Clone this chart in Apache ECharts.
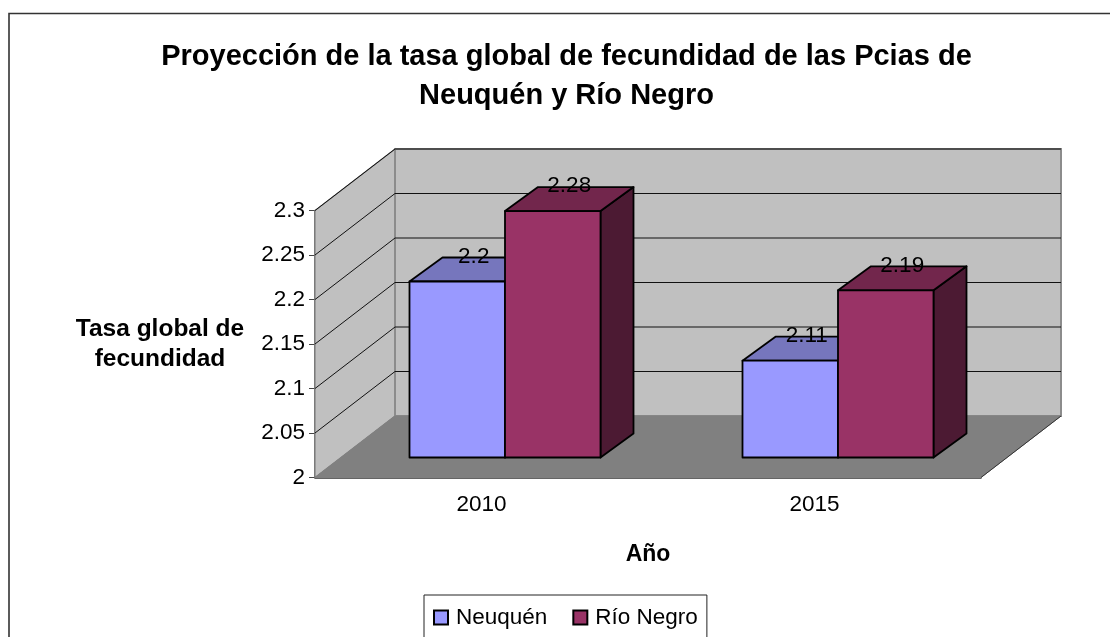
<!DOCTYPE html>
<html lang="es">
<head>
    <meta charset="utf-8">
    <title>Tasa global de fecundidad</title>
    <script src="https://cdn.jsdelivr.net/npm/echarts@6/dist/echarts.min.js"></script>
    <style>
        html, body { margin: 0; padding: 0; background: #fff; }
        #main { width: 1110px; height: 637px; }
    </style>
</head>
<body>
    <div id="main"></div>
    <script>
        var years = ['2010', '2015'];
        var neuquen = [2.2, 2.11];
        var rioNegro = [2.28, 2.19];
        var yTicks = [2, 2.05, 2.1, 2.15, 2.2, 2.25, 2.3];

        var fontName = '"Liberation Sans", Arial, sans-serif';

        // depth of the box behind the front axes
        var wallDx = 80, wallDy = -61.5;
        // depth of a bar
        var barDx = 33, barDy = -24;
        var barRatio = 95.5 / 333;

        function back(p) {
            return [p[0] + wallDx, p[1] + wallDy];
        }

        function renderWalls(params, api) {
            var r = params.coordSys;
            var bl = [r.x, r.y + r.height], tl = [r.x, r.y], br = [r.x + r.width, r.y + r.height];
            var bbl = back(bl), btl = back(tl), bbr = back(br), btr = [bbr[0], btl[1]];
            return {
                type: 'group',
                children: [
                    { type: 'polygon', shape: { points: [bl, bbl, btl, tl] }, style: { fill: '#c0c0c0', stroke: '#808080', lineWidth: 1.2 } },
                    { type: 'polygon', shape: { points: [bbl, btl, btr, bbr] }, style: { fill: '#c0c0c0', stroke: '#8c8c8c', lineWidth: 2 } },
                    { type: 'polygon', shape: { points: [bl, bbl, bbr, br] }, style: { fill: '#808080', stroke: '#808080', lineWidth: 1 } },
                    { type: 'line', shape: { x1: br[0], y1: br[1], x2: bbr[0], y2: bbr[1] }, style: { stroke: '#333', lineWidth: 1 } }
                ]
            };
        }

        function renderGridline(params, api) {
            var r = params.coordSys;
            var y = api.coord([0, api.value(0)])[1];
            var a = [r.x, y], b = back(a), c = [b[0] + r.width, b[1]];
            return {
                type: 'polyline',
                shape: { points: [a, b, c] },
                style: { fill: 'none', stroke: '#111', lineWidth: 1 }
            };
        }

        function barRenderer(side, front, top, right) {
            return function (params, api) {
                var idx = api.value(0), val = api.value(1);
                var t = api.coord([idx, val]), b = api.coord([idx, 2]);
                var w = api.size([1, 0])[0] * barRatio;
                var x0 = t[0] + side * w, x1 = x0 + w;
                var y0 = t[1], y1 = b[1];
                var line = { stroke: '#000', lineWidth: 1.8, lineJoin: 'round' };
                function face(points, fill) {
                    return { type: 'polygon', shape: { points: points }, style: Object.assign({ fill: fill }, line) };
                }
                return {
                    type: 'group',
                    children: [
                        face([[x1, y0], [x1 + barDx, y0 + barDy], [x1 + barDx, y1 + barDy], [x1, y1]], right),
                        face([[x0, y0], [x0 + barDx, y0 + barDy], [x1 + barDx, y0 + barDy], [x1, y0]], top),
                        face([[x0, y0], [x1, y0], [x1, y1], [x0, y1]], front),
                        {
                            type: 'text',
                            z2: 50,
                            style: {
                                x: (x0 + x1) / 2 + barDx / 2,
                                y: y0 - 25,
                                text: String(val),
                                fill: '#000',
                                font: '22.5px ' + fontName,
                                align: 'center',
                                verticalAlign: 'middle'
                            }
                        }
                    ]
                };
            };
        }

        function pairs(values) {
            return values.map(function (v, i) { return [i, v]; });
        }

        var myChart = echarts.init(document.getElementById('main'));
        var option = {
            backgroundColor: '#fff',
            animation: false,
            textStyle: { fontFamily: fontName },
            title: {
                text: 'Proyección de la tasa global de fecundidad de las Pcias de\nNeuquén y Río Negro',
                left: 561.5,
                top: 32,
                textAlign: 'center',
                textStyle: { fontFamily: fontName, fontSize: 29, fontWeight: 'bold', color: '#000', lineHeight: 39 }
            },
            legend: {
                left: 424,
                top: 595,
                padding: [11, 9, 10, 9],
                itemWidth: 14,
                itemHeight: 14,
                itemGap: 25,
                icon: 'rect',
                borderColor: '#222',
                borderWidth: 1,
                backgroundColor: '#fff',
                textStyle: { fontFamily: fontName, fontSize: 22.5, color: '#000', padding: [0, 0, 0, 3] },
                data: ['Neuquén', 'Río Negro']
            },
            // frame of the chart is cut off at the right and bottom in the picture
            graphic: [{
                type: 'polyline',
                silent: true,
                z: -1,
                shape: { points: [[9, 640], [9, 13.5], [1112, 13.5]] },
                style: { fill: 'none', stroke: '#333', lineWidth: 1.6 }
            }],
            grid: [
                { left: 315, top: 210.5, width: 666, height: 267 },
                { left: 338.5, top: 193.5, width: 666, height: 264 }
            ],
            xAxis: [{
                type: 'category',
                gridIndex: 0,
                data: years,
                name: 'Año',
                nameLocation: 'middle',
                nameGap: 66,
                nameTextStyle: { fontFamily: fontName, fontSize: 23, fontWeight: 'bold', color: '#000' },
                axisLine: { lineStyle: { color: '#333', width: 1.5 } },
                axisTick: { length: 6, lineStyle: { color: '#555' } },
                axisLabel: { fontFamily: fontName, fontSize: 22.5, color: '#000', margin: 16 }
            }, {
                type: 'category',
                gridIndex: 1,
                data: years,
                show: false
            }],
            yAxis: [{
                type: 'value',
                gridIndex: 0,
                min: 2,
                max: 2.3,
                interval: 0.05,
                name: 'Tasa global de\nfecundidad',
                nameLocation: 'middle',
                nameRotate: 0,
                nameGap: 155,
                nameTextStyle: { fontFamily: fontName, fontSize: 24.5, fontWeight: 'bold', color: '#000', lineHeight: 30, align: 'center' },
                axisLine: { show: true, lineStyle: { color: '#444', width: 1.5 } },
                axisTick: { show: true, length: 6, lineStyle: { color: '#444' } },
                axisLabel: { fontFamily: fontName, fontSize: 22.5, color: '#000', margin: 10 },
                splitLine: { show: false }
            }, {
                type: 'value',
                gridIndex: 1,
                min: 2,
                max: 2.3,
                show: false
            }],
            series: [
                {
                    type: 'custom',
                    name: 'paredes',
                    xAxisIndex: 0,
                    yAxisIndex: 0,
                    z: 1,
                    silent: true,
                    clip: false,
                    renderItem: renderWalls,
                    data: [[0]]
                },
                {
                    type: 'custom',
                    name: 'rejilla',
                    xAxisIndex: 0,
                    yAxisIndex: 0,
                    z: 2,
                    silent: true,
                    clip: false,
                    renderItem: renderGridline,
                    data: yTicks.slice(1).map(function (v) { return [v]; })
                },
                {
                    type: 'custom',
                    name: 'Neuquén',
                    xAxisIndex: 1,
                    yAxisIndex: 1,
                    z: 3,
                    clip: false,
                    itemStyle: { color: '#9999ff', borderColor: '#000', borderWidth: 1.5 },
                    renderItem: barRenderer(-1, '#9999ff', '#7676bd', '#4c4c80'),
                    encode: { x: 0, y: 1 },
                    data: pairs(neuquen)
                },
                {
                    type: 'custom',
                    name: 'Río Negro',
                    xAxisIndex: 1,
                    yAxisIndex: 1,
                    z: 4,
                    clip: false,
                    itemStyle: { color: '#993366', borderColor: '#000', borderWidth: 1.5 },
                    renderItem: barRenderer(0, '#993366', '#72264c', '#4c1a33'),
                    encode: { x: 0, y: 1 },
                    data: pairs(rioNegro)
                }
            ]
        };
        myChart.setOption(option);
    </script>
</body>
</html>
